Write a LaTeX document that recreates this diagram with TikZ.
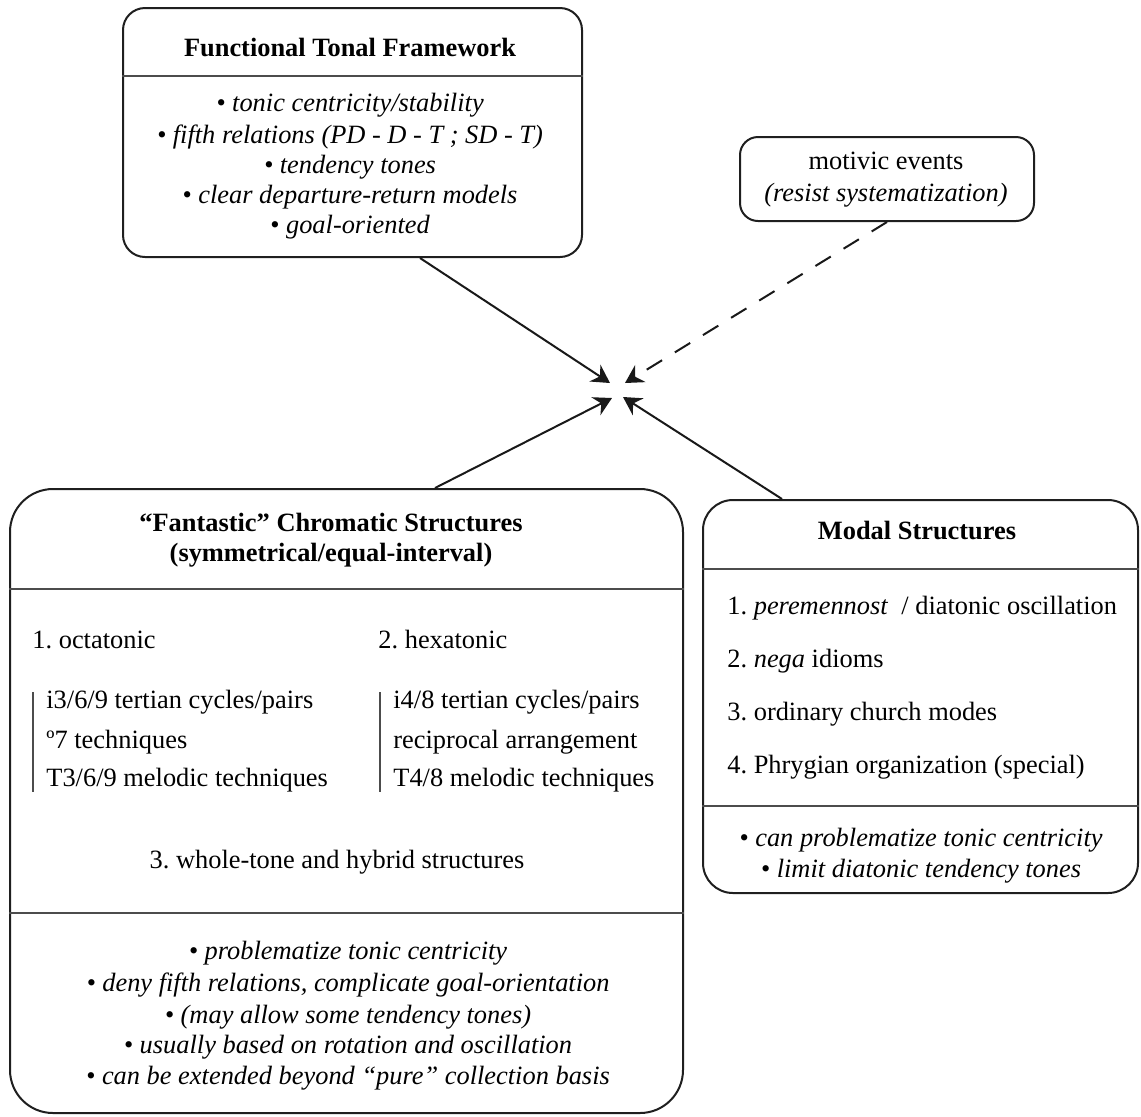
\documentclass[tikz,border=0pt]{standalone}
\usepackage{fontspec}
\setmainfont{Liberation Serif}
\usetikzlibrary{arrows.meta,calc}
\frenchspacing
\begin{document}
\begin{tikzpicture}[x=0.5pt,y=-0.5pt,
  box/.style={draw=black!88, line width=1pt, inner sep=0pt},
  sep/.style={draw=black!70, line width=0.75pt},
  bar/.style={draw=black!70, line width=0.7pt},
  txt/.style={inner sep=0pt, font=\fontsize{13.2}{15}\selectfont, text height=9.3pt, text depth=2.6pt},
  ttl/.style={txt, font=\fontsize{13.2}{15}\selectfont\bfseries},
  ital/.style={txt, font=\fontsize{13.2}{15}\selectfont\itshape},
  arr/.style={draw=black!90, line width=1pt, -{Stealth[length=9pt, width=10pt, inset=3pt]}},
  dsh/.style={dash pattern=on 9pt off 7.5pt}
]
\useasboundingbox (0,0) rectangle (1141,1116);

% ---------- Functional Tonal Framework ----------
\node[box, rounded corners=11pt, minimum width=229.5pt, minimum height=124.5pt] (ftf) at (352.5,132.5) {};
\node[ttl] (ftfT) at (350,50) {Functional Tonal Framework};
\draw[sep] (ftf.west |- 0,76) -- (ftf.east |- 0,76);
\node[ital] (ftf1) at (350,105) {• tonic centricity/stability};
\node[ital] (ftf2) at (350,137) {• fifth relations (PD - D - T ; SD - T)};
\node[ital] (ftf3) at (350,167) {• tendency tones};
\node[ital] (ftf4) at (350,197) {• clear departure-return models};
\node[ital] (ftf5) at (350,227) {• goal-oriented};

% ---------- motivic events ----------
\node[box, rounded corners=9pt, minimum width=147pt, minimum height=42pt] (mot) at (887,179) {};
\node[txt] (mot1) at (886,163) {motivic events};
\node[ital] (mot2) at (886,195) {(resist systematization)};

% ---------- Fantastic Chromatic Structures ----------
\node[box, rounded corners=21.5pt, minimum width=336.5pt, minimum height=312pt] (fan) at (346.5,801) {};
\node[ttl] (fanT1) at (331,525) {“Fantastic” Chromatic Structures};
\node[ttl] (fanT2) at (331,555) {(symmetrical/equal-interval)};
\draw[sep] (fan.west |- 0,589) -- (fan.east |- 0,589);
\node[txt, anchor=west] (oct) at (32,642) {1. octatonic};
\node[txt, anchor=west] (hex) at (378,642) {2. hexatonic};
\draw[bar] (33,692) -- (33,792);
\node[txt, anchor=west] (oc1) at (46,702) {i3/6/9 tertian cycles/pairs};
\node[txt, anchor=west] (oc2) at (46,742) {º7 techniques};
\node[txt, anchor=west] (oc3) at (46,780) {T3/6/9 melodic techniques};
\draw[bar] (380,692) -- (380,792);
\node[txt, anchor=west] (hx1) at (393,702) {i4/8 tertian cycles/pairs};
\node[txt, anchor=west] (hx2) at (393,742) {reciprocal arrangement};
\node[txt, anchor=west] (hx3) at (393,780) {T4/8 melodic techniques};
\node[txt] (who) at (337,862) {3. whole-tone and hybrid structures};
\draw[sep] (fan.west |- 0,913) -- (fan.east |- 0,913);
\node[ital] (fb1) at (348,953) {• problematize tonic centricity};
\node[ital] (fb2) at (348,985) {• deny fifth relations, complicate goal-orientation};
\node[ital] (fb3) at (348,1017) {• (may allow some tendency tones)};
\node[ital] (fb4) at (348,1047) {• usually based on rotation and oscillation};
\node[ital] (fb5) at (348,1078) {• can be extended beyond “pure” collection basis};

% ---------- Modal Structures ----------
\node[box, rounded corners=15pt, minimum width=217.5pt, minimum height=196.5pt] (mod) at (920.5,696.5) {};
\node[ttl] (modT) at (917,533) {Modal Structures};
\draw[sep] (mod.west |- 0,569) -- (mod.east |- 0,569);
\node[txt, anchor=west] (m1) at (727,608) {1. \textit{peremennost}~ / diatonic oscillation};
\node[txt, anchor=west] (m2) at (727,661) {2. \textit{nega} idioms};
\node[txt, anchor=west] (m3) at (727,714) {3. ordinary church modes};
\node[txt, anchor=west] (m4) at (727,767) {4. Phrygian organization (special)};
\draw[sep] (mod.west |- 0,806) -- (mod.east |- 0,806);
\node[ital] (mb1) at (921,840) {• can problematize tonic centricity};
\node[ital] (mb2) at (921,871) {• limit diatonic tendency tones};

% ---------- arrows ----------
\coordinate (h1) at (610,383);
\coordinate (h2) at (625,383);
\coordinate (h3) at (612,398);
\coordinate (h4) at (623,397);
\draw[arr] ([xshift=33.75pt]ftf.south) -- (h1);
\draw[arr, dsh] (mot.south) -- (h2);
\draw[arr] ([xshift=44.25pt]fan.north) -- (h3);
\draw[arr] ([xshift=-69.25pt]mod.north) -- (h4);
\end{tikzpicture}
\end{document}
